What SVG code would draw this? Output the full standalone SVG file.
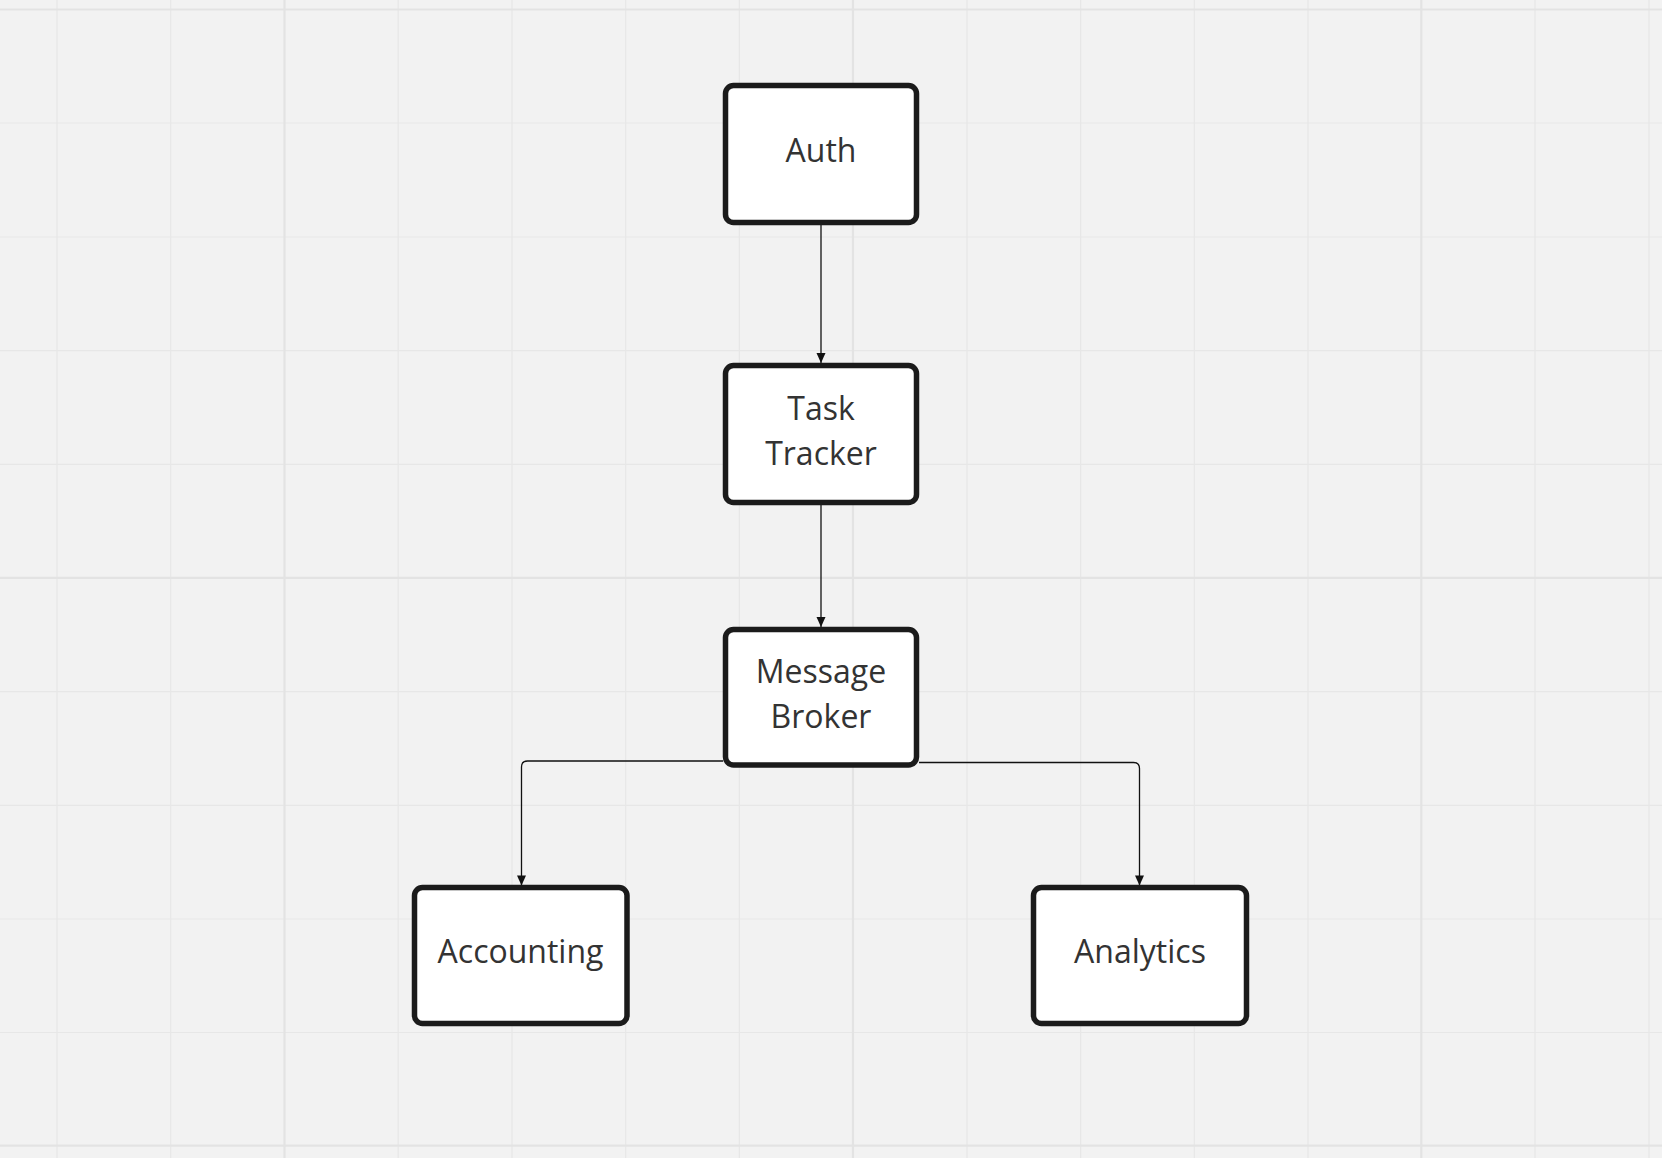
<svg xmlns="http://www.w3.org/2000/svg" width="1662" height="1158" viewBox="0 0 1662 1158">
<defs>
<style>
.minor{stroke:#e7e7e7;stroke-width:1.2;fill:none}
.major{stroke:#e3e3e3;stroke-width:2.2;fill:none}
.box{fill:#ffffff;stroke:#1b1b1b;stroke-width:5.5}
.lbl{font-family:"Open Sans","Noto Sans","DejaVu Sans",sans-serif;font-size:32px;fill:#333333;text-anchor:middle}
.conn{fill:none;stroke:#111111;stroke-width:1.3}
</style>
<marker id="arr" viewBox="0 0 10 10" refX="10" refY="5" markerWidth="16" markerHeight="10" markerUnits="userSpaceOnUse" orient="auto">
<path d="M0,0.5 L10,5 L0,9.5 z" fill="#111111"/>
</marker>
</defs>
<rect x="0" y="0" width="1662" height="1158" fill="#f2f2f2"/>
<g id="grid">
<path class="minor" d="M57,0V1158M170.7,0V1158M398.2,0V1158M512,0V1158M625.7,0V1158M739.4,0V1158M967,0V1158M1080.6,0V1158M1194.3,0V1158M1308,0V1158M1535,0V1158M1649,0V1158"/>
<path class="minor" d="M0,123H1662M0,237H1662M0,350.7H1662M0,464.4H1662M0,691.7H1662M0,805.3H1662M0,919H1662M0,1032.5H1662"/>
<path class="major" d="M284.5,0V1158M853,0V1158M1421.3,0V1158M0,9.5H1662M0,577.9H1662M0,1145.7H1662"/>
</g>
<g id="connectors">
<path class="conn" d="M821,225 V363" marker-end="url(#arr)"/>
<path class="conn" d="M821,505 V627" marker-end="url(#arr)"/>
<path class="conn" d="M723,761 H527.5 Q521.5,761 521.5,767 V885.5" marker-end="url(#arr)"/>
<path class="conn" d="M919,762.5 H1133.5 Q1139.5,762.5 1139.5,768.5 V885.5" marker-end="url(#arr)"/>
</g>
<g id="auth">
<rect class="box" x="725.5" y="85.5" width="191" height="137" rx="8"/>
<text class="lbl" x="821" y="162">Auth</text>
</g>
<g id="task-tracker">
<rect class="box" x="725.5" y="365.5" width="191" height="137" rx="8"/>
<text class="lbl" x="821" y="420">Task</text>
<text class="lbl" x="821" y="465">Tracker</text>
</g>
<g id="message-broker">
<rect class="box" x="725.5" y="629.5" width="191" height="135.5" rx="8"/>
<text class="lbl" x="821" y="683">Message</text>
<text class="lbl" x="821" y="728">Broker</text>
</g>
<g id="accounting">
<rect class="box" x="414.5" y="887.5" width="212.5" height="136" rx="8"/>
<text class="lbl" x="520.5" y="963">Accounting</text>
</g>
<g id="analytics">
<rect class="box" x="1033.5" y="887.5" width="213" height="136" rx="8"/>
<text class="lbl" x="1140" y="963">Analytics</text>
</g>
</svg>
